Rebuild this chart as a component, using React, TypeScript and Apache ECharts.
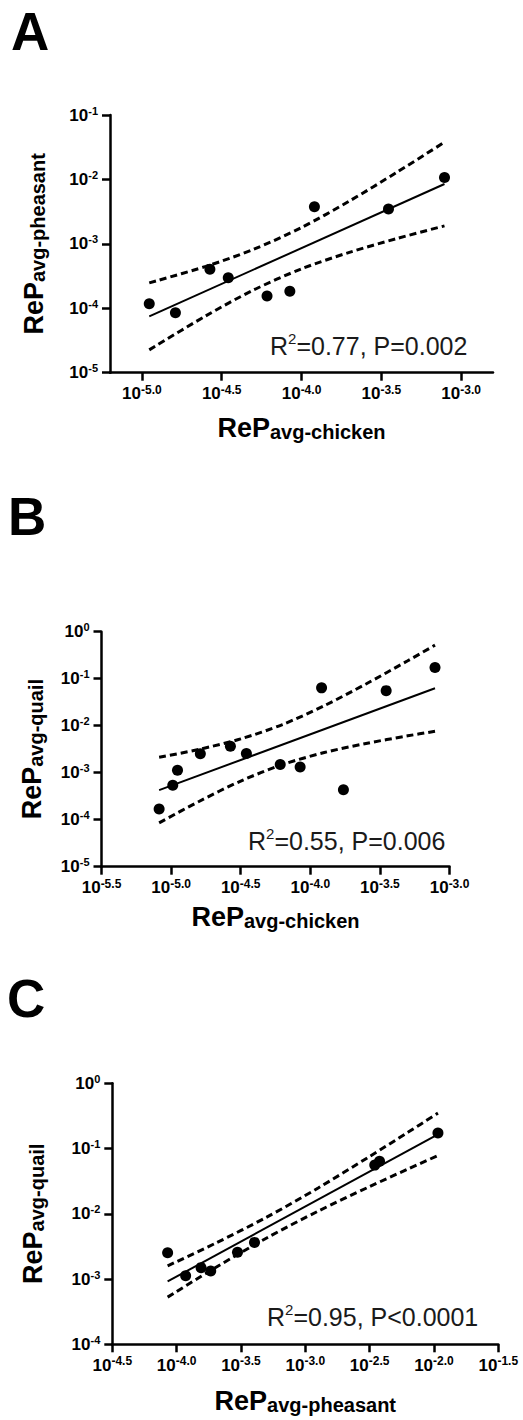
import { useEffect, useRef } from "react";
import * as echarts from "echarts";

// log10 of the average relative potencies, one entry per compound
const chickenLog = [-5.086, -4.988, -4.954, -4.79, -4.574, -4.459, -4.216, -4.073, -3.919, -3.762, -3.455, -3.104];
const pheasantLog = [null, null, -3.93, -4.07, -3.395, -3.527, -3.81, -3.735, -2.423, null, -2.46, -1.969];
const quailLog = [-3.772, -3.268, -2.949, -2.596, -2.438, -2.59, -2.825, -2.878, -1.195, -3.362, -1.254, -0.763];

// regression lines (log10 units)
const aFitX = [-4.954, -3.104];
const aFitY = [-4.126, -2.071];
const bFitX = [-5.086, -3.104];
const bFitY = [-3.371, -1.203];
const cFitX = [-4.07, -1.969];
const cFitY = [-3.037, -0.782];

// 95% confidence bands (log10 units)
const aBandX = [-4.954, -4.6, -4.3, -4.0, -3.7, -3.4, -3.104];
const aUpper = [-3.606, -3.35, -3.085, -2.746, -2.336, -1.885, -1.422];
const aLower = [-4.646, -4.118, -3.716, -3.388, -3.132, -2.916, -2.721];
const bBandX = [-5.086, -4.8, -4.5, -4.2, -3.9, -3.6, -3.3, -3.104];
const bUpper = [-2.673, -2.504, -2.281, -1.975, -1.575, -1.112, -0.618, -0.286];
const bLower = [-4.068, -3.612, -3.178, -2.828, -2.571, -2.378, -2.216, -2.119];
const cBandX = [-4.07, -3.7, -3.3, -2.9, -2.5, -2.2, -1.969];
const cUpper = [-2.798, -2.453, -2.051, -1.604, -1.121, -0.748, -0.457];
const cLower = [-3.277, -2.827, -2.37, -1.959, -1.583, -1.312, -1.107];

// tick exponents
const aXTicks = [-5.0, -4.5, -4.0, -3.5, -3.0];
const bXTicks = [-5.5, -5.0, -4.5, -4.0, -3.5, -3.0];
const cXTicks = [-4.5, -4.0, -3.5, -3.0, -2.5, -2.0, -1.5];
const aYRange = [-5, -1];
const bYRange = [-5, 0];
const cYRange = [-4, 0];

const panelLetters = ["A", "B", "C"];
const xSubs = ["avg-chicken", "avg-chicken", "avg-pheasant"];
const ySubs = ["avg-pheasant", "avg-quail", "avg-quail"];
const statTexts = ["=0.77, P=0.002", "=0.55, P=0.006", "=0.95, P<0.0001"];

const FONT = "'Liberation Sans', Arial, Helvetica, sans-serif";

function pairs(xs: (number | null)[], ys: (number | null)[]) {
  const out: number[][] = [];
  xs.forEach((x, i) => {
    const y = ys[i];
    if (x != null && y != null) out.push([x, y]);
  });
  return out;
}

export default function App() {
  const ref = useRef<HTMLDivElement>(null);
  useEffect(() => {
    if (!ref.current) return;
    const chart = echarts.init(ref.current, null, { renderer: "svg" });

    const layout = [
      { grid: { left: 110, top: 115, width: 383, height: 257.7 }, xMin: -5.2, xMax: -2.8, xGap: 41.5, yGap: 62, letter: { x: 11, y: 31 }, stat: { x: 270, base: 355 } },
      { grid: { left: 101.5, top: 631.7, width: 348, height: 235 }, xMin: -5.5, xMax: -3.0, xGap: 36, yGap: 56, letter: { x: 8, y: 516.5 }, stat: { x: 248, base: 850 } },
      { grid: { left: 112.3, top: 1083.3, width: 386, height: 261 }, xMin: -4.5, xMax: -1.5, xGap: 43, yGap: 65, letter: { x: 7, y: 998 }, stat: { x: 267, base: 1326 } },
    ];
    const xTicks = [aXTicks, bXTicks, cXTicks];
    const yRanges = [aYRange, bYRange, cYRange];
    const points = [pairs(chickenLog, pheasantLog), pairs(chickenLog, quailLog), pairs(pheasantLog, quailLog)];
    const fits = [pairs(aFitX, aFitY), pairs(bFitX, bFitY), pairs(cFitX, cFitY)];
    const uppers = [pairs(aBandX, aUpper), pairs(bBandX, bUpper), pairs(cBandX, cUpper)];
    const lowers = [pairs(aBandX, aLower), pairs(bBandX, bLower), pairs(cBandX, cLower)];

    const nameRich = {
      m: { fontSize: 27, fontWeight: "bold", fontFamily: FONT, color: "#000", lineHeight: 28 },
      sub: { fontSize: 20, fontWeight: "bold", fontFamily: FONT, color: "#000", lineHeight: 8, verticalAlign: "bottom" },
    };
    const tickRichX = {
      b: { fontSize: 17, fontWeight: "bold", fontFamily: FONT, color: "#000", lineHeight: 20 },
      s: { fontSize: 12, fontWeight: "bold", fontFamily: FONT, color: "#000", lineHeight: 12, verticalAlign: "top" },
    };
    const tickRichY = {
      b: { fontSize: 17, fontWeight: "bold", fontFamily: FONT, color: "#000", lineHeight: 20 },
      s: { fontSize: 11, fontWeight: "bold", fontFamily: FONT, color: "#000", lineHeight: 16, verticalAlign: "top" },
    };
    const axisLineStyle = { color: "#000", width: 2.5 };

    const grids: any[] = [];
    const xAxes: any[] = [];
    const yAxes: any[] = [];
    const series: any[] = [];
    const graphics: any[] = [];

    layout.forEach((p, i) => {
      grids.push(p.grid);
      xAxes.push({
        type: "value",
        gridIndex: i,
        min: p.xMin,
        max: p.xMax,
        name: `{m|ReP}{sub|${xSubs[i]}}`,
        nameLocation: "middle",
        nameGap: p.xGap,
        nameTextStyle: { rich: nameRich },
        axisLine: { show: true, onZero: false, lineStyle: axisLineStyle },
        axisTick: { show: true, length: 8, lineStyle: axisLineStyle, customValues: xTicks[i] },
        axisLabel: {
          margin: 11,
          customValues: xTicks[i],
          formatter: (v: number) => `{b|10}{s|${v.toFixed(1)}}`,
          rich: tickRichX,
        },
        splitLine: { show: false },
      });
      yAxes.push({
        type: "value",
        gridIndex: i,
        min: yRanges[i][0],
        max: yRanges[i][1],
        interval: 1,
        name: `{m|ReP}{sub|${ySubs[i]}}`,
        nameLocation: "middle",
        nameRotate: 90,
        nameGap: p.yGap,
        nameTextStyle: { rich: nameRich },
        axisLine: { show: true, onZero: false, lineStyle: axisLineStyle },
        axisTick: { show: true, length: 8, lineStyle: axisLineStyle },
        axisLabel: {
          margin: 12,
          formatter: (v: number) => `{b|10}{s|${Math.round(v)}}`,
          rich: tickRichY,
        },
        splitLine: { show: false },
      });
      const dashed = { color: "#000", width: 3, type: [7, 4] };
      series.push(
        { type: "line", xAxisIndex: i, yAxisIndex: i, data: uppers[i], smooth: 0.3, showSymbol: false, lineStyle: dashed, z: 2 },
        { type: "line", xAxisIndex: i, yAxisIndex: i, data: lowers[i], smooth: 0.3, showSymbol: false, lineStyle: dashed, z: 2 },
        { type: "line", xAxisIndex: i, yAxisIndex: i, data: fits[i], showSymbol: false, lineStyle: { color: "#000", width: 2 }, z: 3 },
        { type: "scatter", xAxisIndex: i, yAxisIndex: i, data: points[i], symbolSize: 11, itemStyle: { color: "#000", opacity: 1 }, z: 4 },
      );
      graphics.push({
        type: "text",
        x: p.letter.x,
        y: p.letter.y,
        style: { text: panelLetters[i], fontSize: 53, fontWeight: "bold", fontFamily: FONT, fill: "#000", verticalAlign: "middle" },
      });
      graphics.push({
        type: "text",
        x: p.stat.x,
        y: p.stat.base - 23.7,
        style: {
          text: `{n|R}{s|2}{n|${statTexts[i]}}`,
          verticalAlign: "top",
          rich: {
            n: { fontSize: 25, fontFamily: FONT, fill: "#1a1a1a", lineHeight: 30 },
            s: { fontSize: 15, fontFamily: FONT, fill: "#1a1a1a", lineHeight: 22, verticalAlign: "top" },
          },
        },
      });
    });

    chart.setOption({
      animation: false,
      backgroundColor: "#fff",
      grid: grids,
      xAxis: xAxes,
      yAxis: yAxes,
      series,
      graphic: graphics,
    });
    return () => chart.dispose();
  }, []);
  return <div ref={ref} style={{ position: "absolute", left: 0, top: 0, width: 523, height: 1420 }} />;
}
